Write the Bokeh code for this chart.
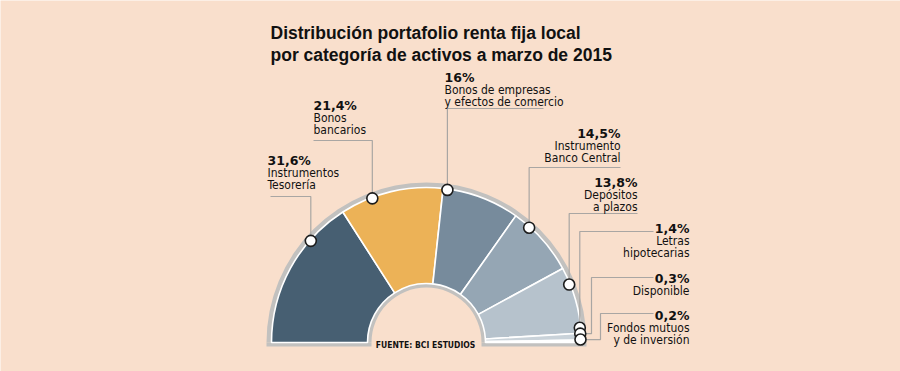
import numpy as np
from bokeh.plotting import figure
from bokeh.models import ColumnDataSource, Range1d
from bokeh.core.properties import value
from bokeh.embed import file_html
from bokeh.resources import INLINE

# ---------------- data ----------------
categories = ["Instrumentos\nTesorería", "Bonos\nbancarios",
              "Bonos de empresas\ny efectos de comercio", "Instrumento\nBanco Central",
              "Depósitos\na plazos", "Letras\nhipotecarias", "Disponible",
              "Fondos mutuos\ny de inversión"]
shares = [31.6, 21.4, 16.0, 14.5, 13.8, 1.4, 0.3, 0.2]
title_lines = ["Distribución portafolio renta fija local",
               "por categoría de activos a marzo de 2015"]
source_note = "FUENTE: BCI ESTUDIOS"

# ---------------- style / layout ----------------
colors = ["#475f72", "#ecb257", "#778b9c", "#95a6b4", "#b6c2cc",
          "#c9d2d9", "#d6dde2", "#e2e7eb"]
BG = "#f9dfcc"
RING = "#c2c1bf"
W, H = 900, 371

def X(px):  # page pixel -> data
    return px

def Y(py):
    return H - py

cx, cy = X(426), Y(342)
r_in, r_out = 59, 155
# callout anchor angles on the rim (degrees measured from the left end)
callout_deg = [41.3, 69.4, 97.8, 131.8, 157.9, 174.5, 176.7, 178.9]
# leader: (vertical x or None, elbow y, end x) in page pixels
leaders = [(None, 196, 270), (None, 140, 313), (None, 108, 543), (None, 167, 620),
           (None, 213, 637), (None, 231, 653), (591, 277, 653), (600, 313, 653)]
# text block: (x, first line centre y, align)
text_pos = [(267, 160, "left"), (313, 105, "left"), (444, 77, "left"),
            (620, 133, "right"), (637, 182, "right"), (689, 228, "right"),
            (689, 278, "right"), (689, 315, "right")]
LINE_H = 12.3

p = figure(width=W, height=H, output_backend="svg", toolbar_location=None,
           x_range=Range1d(0, W), y_range=Range1d(0, H), min_border=0)
p.axis.visible = False
p.grid.visible = False
p.outline_line_color = None
p.background_fill_color = BG
p.border_fill_color = BG

# grey frame
p.annular_wedge(x=cx, y=cy, inner_radius=r_in - 4, outer_radius=r_out + 5,
                start_angle=0, end_angle=np.pi, fill_color=RING, line_color=None)
p.quad(left=[cx - r_out - 5, cx + r_in - 4], right=[cx - r_in + 4, cx + r_out + 5],
       bottom=[cy - 4, cy - 4], top=[cy, cy], fill_color=RING, line_color=None)

# slices
total = sum(shares)
cum = np.concatenate([[0], np.cumsum(shares)]) / total * 180.0
src = ColumnDataSource(dict(
    start=[np.pi - np.deg2rad(cum[i + 1]) for i in range(len(shares))],
    end=[np.pi - np.deg2rad(cum[i]) for i in range(len(shares))],
    color=colors))
p.annular_wedge(x=cx, y=cy, inner_radius=r_in, outer_radius=r_out,
                start_angle="start", end_angle="end", fill_color="color",
                line_color="white", line_width=1.6, source=src)

# leaders + markers
mx, my = [], []
for i, a in enumerate(callout_deg):
    th = np.pi - np.deg2rad(a)
    x0 = cx + (r_out - 1) * np.cos(th)
    y0 = cy + (r_out - 1) * np.sin(th)
    mx.append(x0); my.append(y0)
    xv, ye, xe = leaders[i]
    xs, ys = [x0], [y0]
    if xv is not None:
        xs.append(X(xv)); ys.append(y0)
    vx = X(xv) if xv is not None else x0
    xs += [vx, X(xe)]
    ys += [Y(ye), Y(ye)]
    p.line(xs, ys, line_color="#a9a6a3", line_width=1.2)
p.scatter(mx, my, size=11, fill_color="white", line_color="#1c1c1c", line_width=1.6)

# labels
def fmt(v):
    s = f"{v:.1f}".replace(".", ",")
    if s.endswith(",0"):
        s = s[:-2]
    return s + "%"

for i, (name, v) in enumerate(zip(categories, shares)):
    tx, ty, al = text_pos[i]
    p.text(x=[X(tx)], y=[Y(ty)], text=[fmt(v)], text_font=value("DejaVu Sans"),
           text_font_style="bold", text_font_size="12.5px", text_align=al,
           text_baseline="middle", text_color="#111111")
    for j, ln in enumerate(name.split("\n")):
        p.text(x=[X(tx)], y=[Y(ty + LINE_H * (j + 1))], text=[ln],
               text_font=value("DejaVu Sans Condensed"), text_font_size="12px",
               text_align=al, text_baseline="middle", text_color="#111111")

# title
for j, ln in enumerate(title_lines):
    p.text(x=[X(270)], y=[Y(32 + 22 * j)], text=[ln],
           text_font=value("Liberation Sans"), text_font_style="bold",
           text_font_size="17.5px", text_align="left", text_baseline="alphabetic",
           text_color="#111111")

p.text(x=[X(425)], y=[Y(344)], text=[source_note], text_font=value("DejaVu Sans Condensed"),
       text_font_style="bold", text_font_size="8.5px", text_align="center",
       text_baseline="middle", text_color="#111111")

html = file_html(p, INLINE)
html = html.replace("<body>", f'<body style="background:{BG}">', 1)
open("out.html", "w").write(html)
